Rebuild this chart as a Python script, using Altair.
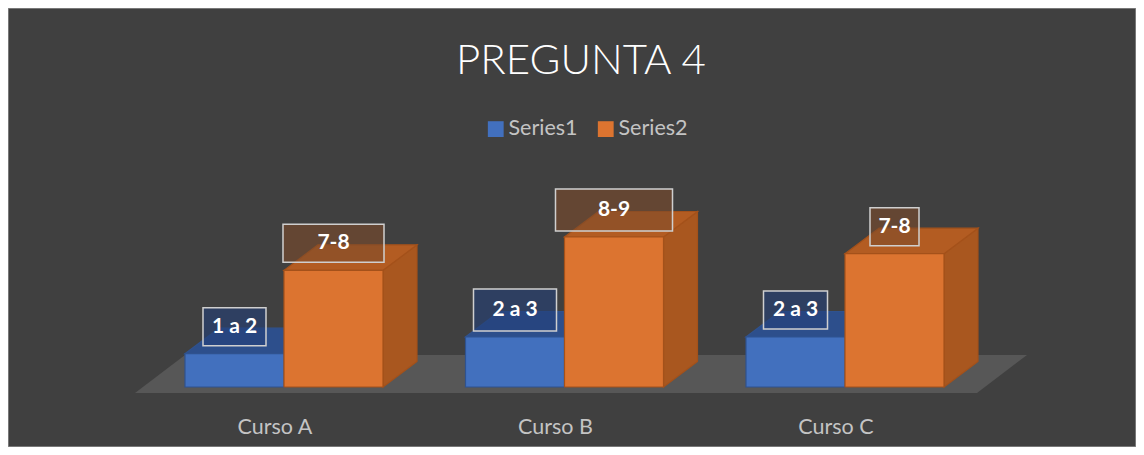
import json
import altair as alt
import pandas as pd

# ---------------- data ----------------
categories = ["Curso A", "Curso B", "Curso C"]
series_names = ["Series1", "Series2"]
series1 = [2, 3, 3]
series2 = [7, 9, 8]
labels1 = ["1 a 2", "2 a 3", "2 a 3"]
labels2 = ["7-8", "8-9", "7-8"]

# ---------------- styles / geometry ----------------
BG = "#404040"
FLOOR = "#575757"
TXT = "#c4c4c4"
PAL = [
    dict(front="#4270BE", top="#2D4F8C", side="#31579A", edge="#2F528F", box="#233f78"),
    dict(front="#DC7430", top="#B35C22", side="#A9571F", edge="#A4511A", box="#7d4b2b"),
]
box_w_px = [[63, 83, 64], [101, 117, 49]]
box_h_px = [38, 42, 38]

W, H = 1128, 439
PX_X = 280.5      # pixels per category step
PX_Y = 16.667     # pixels per value unit
X0_PX = 276.0     # pixel of category 0
Y0_PX = 379.0     # pixel of value 0
BAR_W = 99 / PX_X
DX = 34 / PX_X
DY = 25.5 / PX_Y
LIFT = 27 / PX_Y
FLOOR_FRONT = -6 / PX_Y
FLOOR_BACK = 32 / PX_Y
FLOOR_L = (127 - X0_PX) / PX_X
FLOOR_R = (969 - X0_PX) / PX_X
FLOOR_DX = 50 / PX_X

x_dom = [(0 - X0_PX) / PX_X, (W - X0_PX) / PX_X]
y_dom = [-(H - Y0_PX) / PX_Y, Y0_PX / PX_Y]

# ---------------- tables ----------------
fronts, tops, sides, boxes = [], [], [], []
for si, (vals, labs) in enumerate([(series1, labels1), (series2, labels2)]):
    pal = PAL[si]
    for i, v in enumerate(vals):
        x0 = i - BAR_W if si == 0 else i
        bid = f"{si}-{i}"
        fronts.append(dict(series=series_names[si], x=x0, x2=x0 + BAR_W, y=0, y2=v,
                           edge=pal["edge"], cat=categories[i]))
        tops += [
            dict(id=bid, y=v, xa=x0, xb=x0 + BAR_W, fill=pal["top"], edge=pal["edge"]),
            dict(id=bid, y=v + DY, xa=x0 + DX, xb=x0 + BAR_W + DX, fill=pal["top"], edge=pal["edge"]),
        ]
        sides += [
            dict(id=bid, x=x0 + BAR_W, ya=0, yb=v, fill=pal["side"], edge=pal["edge"]),
            dict(id=bid, x=x0 + BAR_W + DX, ya=DY, yb=v + DY, fill=pal["side"], edge=pal["edge"]),
        ]
        cx = x0 + BAR_W / 2
        cy = v + LIFT
        hw = box_w_px[si][i] / 2 / PX_X
        hh = box_h_px[i] / 2 / PX_Y
        boxes.append(dict(cx=cx, cy=cy, bx=cx - hw, bx2=cx + hw, by=cy - hh, by2=cy + hh,
                          fill=pal["box"], label=labs[i]))

floor_df = pd.DataFrame([
    dict(id="f", y=FLOOR_FRONT, xa=FLOOR_L, xb=FLOOR_R),
    dict(id="f", y=FLOOR_BACK, xa=FLOOR_L + FLOOR_DX, xb=FLOOR_R + FLOOR_DX),
])
fronts_df = pd.DataFrame(fronts)
tops_df = pd.DataFrame(tops)
sides_df = pd.DataFrame(sides)
boxes_df = pd.DataFrame(boxes)

xscale = alt.Scale(domain=x_dom, nice=False, zero=False)
yscale = alt.Scale(domain=y_dom, nice=False, zero=False)
label_expr = json.dumps(categories) + "[datum.value]"
xaxis = alt.Axis(values=[0, 1, 2], labelExpr=label_expr, domain=False, ticks=False, tickSize=0,
                 grid=False, orient="bottom", offset=-(H - 425), labelPadding=0, labelBaseline="alphabetic",
                 labelOffset=-9.5, labelFont="Lato", labelFontSize=21.5, labelColor=TXT, title=None)


def X(f):
    return alt.X(f"{f}:Q", scale=xscale, axis=xaxis, stack=None)


def Y(f):
    return alt.Y(f"{f}:Q", scale=yscale, axis=None, stack=None)


floor = alt.Chart(floor_df).mark_area(orient="horizontal", color=FLOOR).encode(
    y=Y("y"), x=X("xa"), x2=alt.X2("xb"), detail="id:N")

side = alt.Chart(sides_df).mark_area(orient="vertical", strokeWidth=1.2).encode(
    x=X("x"), y=Y("ya"), y2=alt.Y2("yb"), detail="id:N",
    fill=alt.Fill("fill:N", scale=None), stroke=alt.Stroke("edge:N", scale=None))

top = alt.Chart(tops_df).mark_area(orient="horizontal", strokeWidth=1.2).encode(
    y=Y("y"), x=X("xa"), x2=alt.X2("xb"), detail="id:N",
    fill=alt.Fill("fill:N", scale=None), stroke=alt.Stroke("edge:N", scale=None))

front = alt.Chart(fronts_df).mark_rect(strokeWidth=1.2).encode(
    x=X("x"), x2=alt.X2("x2"), y=Y("y"), y2=alt.Y2("y2"),
    color=alt.Color("series:N",
                    scale=alt.Scale(domain=series_names, range=[PAL[0]["front"], PAL[1]["front"]]),
                    legend=alt.Legend(orient="none", legendX=477, legendY=110, direction="horizontal",
                                      title=None, symbolType="square", symbolSize=250,
                                      labelFont="Lato", labelFontSize=21.5, labelColor=TXT,
                                      labelOffset=2, columnPadding=17, padding=0)),
    stroke=alt.Stroke("edge:N", scale=None))

box = alt.Chart(boxes_df).mark_rect(fillOpacity=0.6, stroke="#cfcfcf", strokeWidth=1.5).encode(
    x=X("bx"), x2=alt.X2("bx2"), y=Y("by"), y2=alt.Y2("by2"),
    fill=alt.Fill("fill:N", scale=None))

text = alt.Chart(boxes_df).mark_text(font="Lato", fontWeight="bold", fontSize=21, color="white",
                                     align="center", baseline="middle").encode(
    x=X("cx"), y=Y("cy"), text="label:N")

chart = alt.layer(floor, side, top, front, box, text).properties(
    width=W, height=H, padding=0,
    autosize=alt.AutoSizeParams(type="none"),
    title=alt.TitleParams("PREGUNTA 4", font="Lato", fontSize=42, fontWeight=300, color="#ffffff",
                          anchor="middle", offset=0, baseline="alphabetic", dy=108, dx=9),
).configure(background=BG).configure_view(stroke="#8a8a8a", strokeWidth=1.5, fill=BG)

chart.save("out.html", embed_options={"renderer": "svg", "actions": False})
